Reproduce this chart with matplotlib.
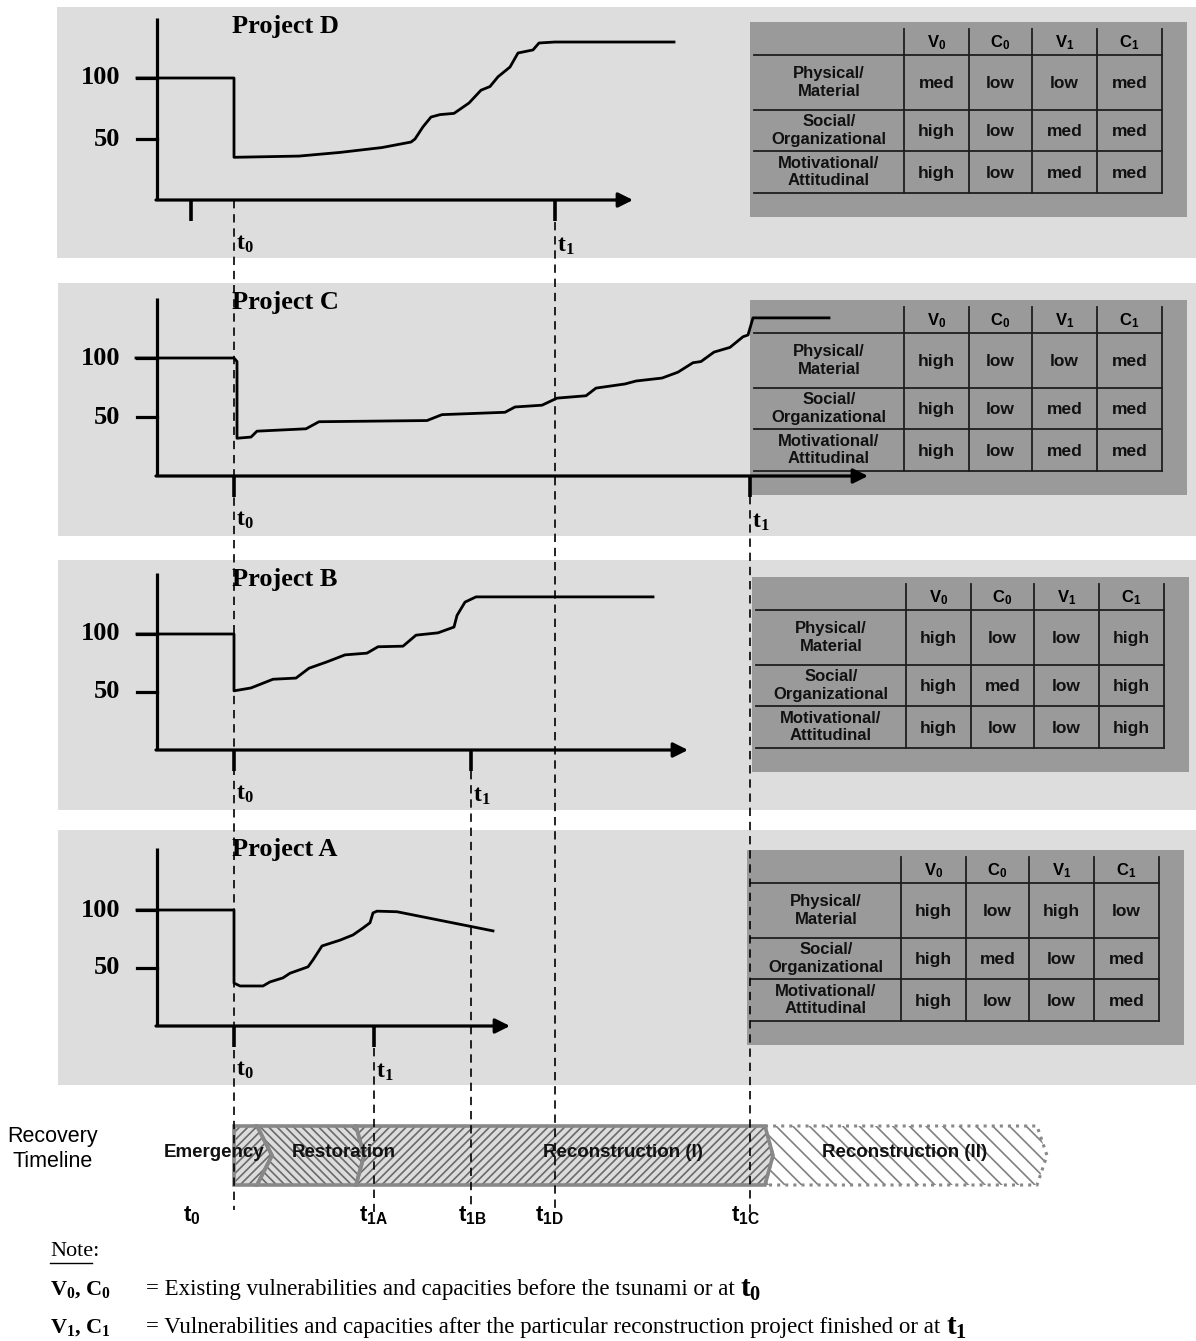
import matplotlib
matplotlib.use("Agg")
import matplotlib.pyplot as plt
from matplotlib.patches import Rectangle, Polygon

plt.rcParams["font.family"] = ["Liberation Serif", "DejaVu Serif"]
plt.rcParams["mathtext.fontset"] = "custom"
plt.rcParams["mathtext.rm"] = "Liberation Serif"
plt.rcParams["mathtext.bf"] = "Liberation Serif:bold"
plt.rcParams["mathtext.it"] = "Liberation Serif:italic"
plt.rcParams["mathtext.sf"] = "Liberation Sans:bold"
plt.rcParams["hatch.linewidth"] = 1.2

W, H = 1196, 1341
PX = 20.0      # pixels per time unit on the shared time axis
T0_PX = 234    # pixel position of t0
SANS = "Liberation Sans"

# ---------------- data ----------------
# recovery curves (time after tsunami, level in % of pre-disaster)
d_t = [-4.85, 0, 0, 3.25, 5.3, 7.4, 8.85, 9.05, 9.45, 9.85, 10.3, 11.0, 11.75,
       12.35, 12.8, 13.2, 13.8, 14.2, 14.95, 15.25, 16.05, 22.0]
d_v = [100, 100, 35, 36, 39, 43, 47.5, 50, 60, 68, 70, 71, 79.5,
       90, 93, 101, 109, 120.5, 123, 128.7, 129.5, 129.5]

c_t = [-4.9, 0, 0.15, 0.15, 0.85, 1.15, 3.6, 4.25, 9.65, 10.4, 13.55, 14.05,
       15.4, 16.15, 17.6, 18.1, 19.55, 20.1, 21.4, 22.2, 22.95, 23.35, 24.0,
       24.8, 25.45, 25.7, 25.95, 29.75]
c_v = [100, 100, 97, 32, 33, 38, 40, 46, 47, 52, 54, 58.5,
       60, 66, 68, 74.5, 78, 80.5, 83, 88, 96, 97, 105,
       109, 118, 119.5, 134, 134]

b_t = [-4.85, 0, 0, 0.85, 1.95, 3.1, 3.75, 4.65, 5.55, 6.65, 7.2, 8.45, 9.1,
       10.2, 11.0, 11.15, 11.55, 12.1, 20.95]
b_v = [100, 100, 51, 53.5, 61, 62, 70.5, 76, 82, 83.5, 89, 89.5, 99,
       101, 106, 116, 127.5, 132, 132]

a_t = [-4.85, 0, 0, 0.3, 1.45, 1.8, 2.45, 2.8, 3.7, 3.95, 4.4, 5.3, 5.95,
       6.45, 6.8, 6.95, 7.15, 8.15, 12.95]
a_v = [100, 100, 37, 34.5, 34.5, 38, 41.5, 45.5, 51, 57, 69, 74, 78.5,
       84.5, 89, 97.5, 99, 98.5, 82]

# project end times (t1)
t1_times = {"D": 16.05, "C": 25.8, "B": 11.85, "A": 7.0}

# vulnerability / capacity tables
row_labels = ["Physical/\nMaterial", "Social/\nOrganizational", "Motivational/\nAttitudinal"]
col_labels = [r"$\mathsf{V_0}$", r"$\mathsf{C_0}$", r"$\mathsf{V_1}$", r"$\mathsf{C_1}$"]
table_d = [["med", "low", "low", "med"], ["high", "low", "med", "med"], ["high", "low", "med", "med"]]
table_c = [["high", "low", "low", "med"], ["high", "low", "med", "med"], ["high", "low", "med", "med"]]
table_b = [["high", "low", "low", "high"], ["high", "med", "low", "high"], ["high", "low", "low", "high"]]
table_a = [["high", "low", "high", "low"], ["high", "med", "low", "med"], ["high", "low", "low", "med"]]

# recovery timeline phases (boundaries in time units)
phase_names = ["Emergency", "Restoration", "Reconstruction (I)", "Reconstruction (II)"]
phase_bounds = [0, 1.15, 6.1, 26.55, 40.15]
timeline_labels = [r"$\mathsf{t_0}$", r"$\mathsf{t_{1A}}$", r"$\mathsf{t_{1B}}$",
                   r"$\mathsf{t_{1D}}$", r"$\mathsf{t_{1C}}$"]
timeline_label_t = [-2.1, 7.0, 11.9, 15.75, 25.6]

# ---------------- layout ----------------
# name: (curve t, curve v, background box, x-axis px, px per unit, y-axis top px,
#        arrow end px, extra ticks, table origin, table values)
panels = {
    "D": (d_t, d_v, (57, 7, 1196, 258), 200, 1.22, 18, 633, [-2.15], (750, 22), table_d),
    "C": (c_t, c_v, (58, 283, 1196, 536), 476, 1.18, 298, 868, [0], (750, 300), table_c),
    "B": (b_t, b_v, (58, 560, 1196, 810), 750, 1.16, 573, 688, [0], (752, 577), table_b),
    "A": (a_t, a_v, (58, 830, 1196, 1085), 1026, 1.16, 848, 510, [0], (747, 850), table_a),
}

fig = plt.figure(figsize=(W / 100, H / 100), dpi=100)
tlim = ((0 - T0_PX) / PX, (W - T0_PX) / PX)

# background layer in pixel coordinates
bg = fig.add_axes([0, 0, 1, 1])
bg.set_xlim(0, W)
bg.set_ylim(H, 0)
bg.axis("off")

# time overlay: x in time units, y in pixels
tl = fig.add_axes([0, 0, 1, 1])
tl.set_xlim(*tlim)
tl.set_ylim(H, 0)
tl.axis("off")


def draw_table(ox, oy, vals):
    bg.add_patch(Rectangle((ox, oy), 437, 195, fc="#9a9a9a", ec="none", zorder=1))
    cols = [ox + 154, ox + 219, ox + 282, ox + 347, ox + 412]
    top = oy + 7
    rows = [oy + 33, oy + 88, oy + 129, oy + 171]
    for x in cols:
        bg.plot([x, x], [top, rows[-1]], color="#1e1e1e", lw=1.3, zorder=2)
    for y in rows:
        bg.plot([ox + 4, cols[-1]], [y, y], color="#1e1e1e", lw=1.3, zorder=2)
    for j, lab in enumerate(col_labels):
        bg.text((cols[j] + cols[j + 1]) / 2, (top + rows[0]) / 2 + 1, lab,
                ha="center", va="center", fontsize=12, zorder=3)
    for i, lab in enumerate(row_labels):
        yc = (rows[i] + rows[i + 1]) / 2
        bg.text((ox + 4 + cols[0]) / 2, yc, lab, ha="center", va="center",
                fontsize=12, family=SANS, weight="bold", linespacing=1.2,
                color="#111111", zorder=3)
        for j, v in enumerate(vals[i]):
            bg.text((cols[j] + cols[j + 1]) / 2, yc + 1, v, ha="center", va="center",
                    fontsize=12.5, family=SANS, weight="bold", color="#111111", zorder=3)


for name, (ts, vs, box, zero, s, ytop_px, arrow_px, extra, torg, tvals) in panels.items():
    x0, y0, x1, y1 = box
    bg.add_patch(Rectangle((x0, y0), x1 - x0, y1 - y0, fc="#dddddd", ec="none", zorder=0))
    draw_table(torg[0], torg[1], tvals)
    bg.text(232, y0 + 19, "Project " + name, ha="left", va="center",
            fontsize=19, weight="bold", zorder=3)

    ax = fig.add_axes([0, 0, 1, 1])
    ax.set_xlim(*tlim)
    ax.set_ylim((zero - H) / s, zero / s)
    ax.axis("off")

    y_ax = (157 - T0_PX) / PX
    tick_l = (137 - T0_PX) / PX
    ax.plot([y_ax, y_ax], [0, (zero - ytop_px) / s], color="k", lw=2.3,
            solid_capstyle="butt")
    ax.annotate("", xy=((arrow_px - T0_PX) / PX, 0), xytext=(y_ax - 0.05, 0),
                arrowprops=dict(arrowstyle="-|>", lw=2.3, color="k",
                                mutation_scale=22, shrinkA=0, shrinkB=0))
    for v in [50, 100]:
        ax.plot([tick_l, y_ax], [v, v], color="k", lw=2.3)
        ax.text(tick_l - 0.85, v, str(v), ha="right", va="center",
                fontsize=19, weight="bold")
    t1 = t1_times[name]
    for tk in extra + [t1]:
        ax.plot([tk, tk], [0, -21 / s], color="k", lw=2.6, solid_capstyle="butt")
    ax.text(0.12, -44 / s, r"$\mathbf{t_0}$", ha="left", va="center", fontsize=17)
    ax.text(t1 + 0.12, -46 / s, r"$\mathbf{t_1}$", ha="left", va="center", fontsize=17)
    ax.plot(ts, vs, color="k", lw=2.0, solid_joinstyle="round")

# dashed guide lines from each project's t1 down to the timeline
guides = [(0, 200, 1210), (t1_times["D"], 222, 1212), (t1_times["C"], 496, 1214),
          (t1_times["B"], 771, 1210), (t1_times["A"], 1048, 1212)]
for t, ya, yb in guides:
    tl.plot([t, t], [ya, yb], color="k", lw=1.2, dashes=(5, 3.5), zorder=5)

# recovery timeline bar
TOP, BOT = 1126, 1185
MID = (TOP + BOT) / 2
tips = [0.75, 0.4, 0.4, 0.5]
styles = [("#dcdcdc", "#6a6a6a", "////"), ("#dcdcdc", "#6a6a6a", "\\\\\\\\"),
          ("#dcdcdc", "#6a6a6a", "////"), ("white", "#808080", "\\\\")]
for i in range(4):
    a, b = phase_bounds[i], phase_bounds[i + 1]
    left_tip = tips[i - 1] if i > 0 else 0
    pts = [(a, TOP), (b, TOP), (b + tips[i], MID), (b, BOT), (a, BOT), (a + left_tip, MID)]
    fc, hc, hatch = styles[i]
    tl.add_patch(Polygon(pts, closed=True, fc=fc, ec=hc, lw=0, hatch=hatch, zorder=1))
    ls = ":" if i == 3 else "-"
    tl.add_patch(Polygon(pts, closed=True, fc="none", ec="#888888", lw=2.6 if i < 3 else 2.2,
                         ls=ls, zorder=2))

for lab, t in zip(timeline_labels, timeline_label_t):
    tl.text(t, 1216, lab, ha="center", va="center", fontsize=16)

# top text layer in pixel coordinates
top = fig.add_axes([0, 0, 1, 1])
top.set_xlim(0, W)
top.set_ylim(H, 0)
top.axis("off")

phase_label_px = [214, 344, 623, 905]
for lab, xp in zip(phase_names, phase_label_px):
    top.text(xp, MID - 3, lab, ha="center", va="center", fontsize=13.5, family=SANS,
             weight="bold", color="#111111")
top.text(53, 1149, "Recovery\nTimeline", ha="center", va="center", fontsize=15.5,
         family=SANS, linespacing=1.25)

# notes
top.text(50, 1252, "Note:", ha="left", va="center", fontsize=16)
top.plot([50, 92], [1263, 1263], color="k", lw=1.0)
notes = [(r"$\mathbf{V_0}$, $\mathbf{C_0}$",
          "= Existing vulnerabilities and capacities before the tsunami or at",
          r"$\mathbf{t_0}$", 1290),
         (r"$\mathbf{V_1}$, $\mathbf{C_1}$",
          "= Vulnerabilities and capacities after the particular reconstruction project finished or at",
          r"$\mathbf{t_1}$", 1328)]
for sym, desc, tsym, y in notes:
    top.text(50, y, sym, ha="left", va="center", fontsize=16, weight="bold")
    txt = top.text(146, y, desc, ha="left", va="center", fontsize=16.5)
    top.annotate(tsym, xy=(1, 0), xycoords=txt, xytext=(4, -2),
                 textcoords="offset points", ha="left", va="bottom", fontsize=21)

fig.savefig("out.png", dpi=100, facecolor="white")
